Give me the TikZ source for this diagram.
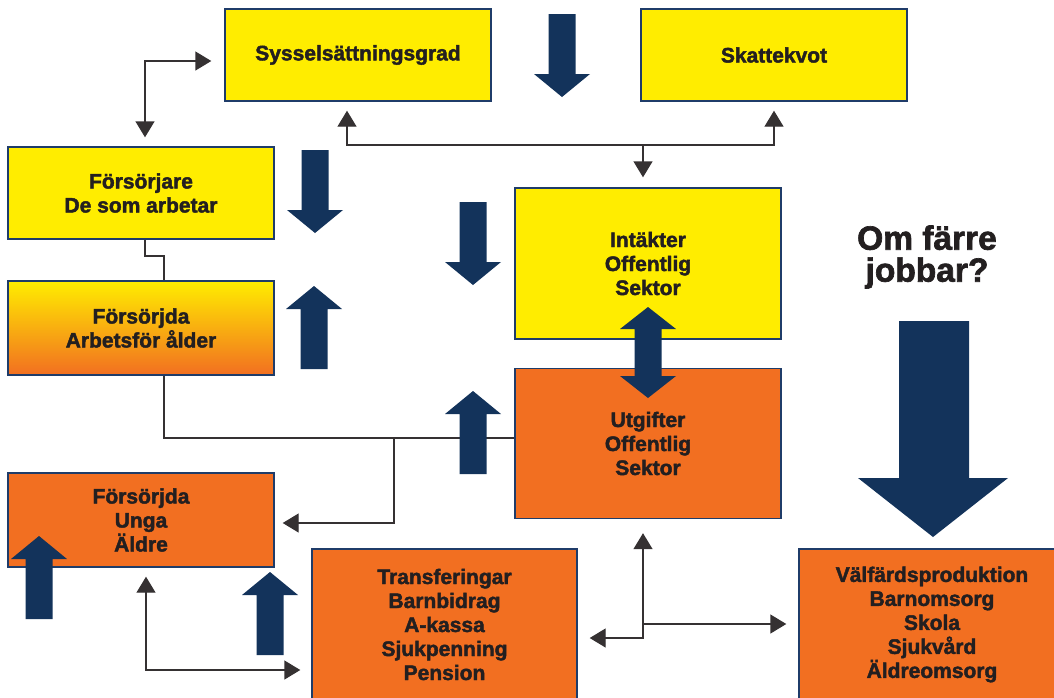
\documentclass[tikz,border=0pt]{standalone}
\usepackage{fontspec}
\setmainfont{Liberation Sans}[BoldFeatures={FakeBold=2}]
\usetikzlibrary{arrows.meta}
\definecolor{ylw}{HTML}{FFED00}
\definecolor{org}{HTML}{F26F21}
\definecolor{navy}{HTML}{13335B}
\definecolor{edge}{HTML}{1F3C69}
\definecolor{ink}{HTML}{231F20}
\definecolor{lin}{HTML}{353132}
\tikzset{
 Tri/.tip={Triangle[length=16pt,width=19pt]},
 box/.style={draw=edge, line width=1.4pt, minimum width=266pt, inner sep=0pt, align=center,
   font=\fontsize{21}{24}\selectfont\bfseries, text=ink},
 ybox/.style={box, fill=ylw},
 obox/.style={box, fill=org},
 gbox/.style={box, top color=ylw, bottom color=org},
 conn/.style={draw=lin, line width=1.4pt},
 bdown/.pic={\fill[navy] (-13.5,0) -- (13.5,0) -- (13.5,60) -- (28,60) -- (0,83) -- (-28,60) -- (-13.5,60) -- cycle;},
 bup/.pic={\fill[navy] (0,0) -- (28,23) -- (13.5,23) -- (13.5,83) -- (-13.5,83) -- (-13.5,23) -- (-28,23) -- cycle;},
 bboth/.pic={\fill[navy] (0,0) -- (28,22) -- (13.5,22) -- (13.5,69) -- (28,69) -- (0,91) -- (-28,69) -- (-13.5,69) -- (-13.5,22) -- (-28,22) -- cycle;}
}
\begin{document}
\begin{tikzpicture}[x=1pt,y=-1pt]
\useasboundingbox (0,0) rectangle (1054,697);
\fill[white] (0,0) rectangle (1054,697);

% boxes
\node[ybox, minimum height=92pt] (syss) at (358,55) {Sysselsättningsgrad};
\node[ybox, minimum height=92pt] (skatt) at (774,55) {Skattekvot};
\node[ybox, minimum height=92pt] (forsj) at (141,193) {Försörjare\\De som arbetar};
\node[gbox, minimum height=94pt] (arb) at (141,328) {Försörjda\\Arbetsför ålder};
\node[ybox, minimum height=151pt] (int) at (648,263.5) {Intäkter\\Offentlig\\Sektor};
\node[obox, minimum height=150pt] (utg) at (648,443.5) {Utgifter\\Offentlig\\Sektor};
\node[obox, minimum height=94pt] (unga) at (141,520) {Försörjda\\Unga\\Äldre};
\node[obox, minimum width=265pt, minimum height=151pt] (trans) at (444.5,624.5) {Transferingar\\Barnbidrag\\A-kassa\\Sjukpenning\\Pension};
\node[obox, minimum height=151pt] (valf) at (932,624.5) {Välfärdsproduktion\\Barnomsorg\\Skola\\Sjukvård\\Äldreomsorg};

\node[font=\fontsize{33.5}{32}\selectfont\bfseries, text=ink, align=center, inner sep=0pt] (q) at (927,257) {Om färre\\jobbar?};

% junction coordinates
\coordinate (a1) at (145,61);
\coordinate (b1) at (347,145);
\coordinate (b2) at (774,145);
\coordinate (b3) at (643,145);
\coordinate (c1) at (145,256);
\coordinate (c2) at (164,256);
\coordinate (d1) at (164,438);
\coordinate (d2) at (394,438);
\coordinate (d3) at (394,523);
\coordinate (e1) at (146,670);
\coordinate (f1) at (643,638);
\coordinate (f2) at (643,624);

% connectors
\draw[conn, Tri-Tri, shorten <=13pt, shorten >=9pt] (syss.west |- a1) -- (a1) -- (a1 |- forsj.north);
\draw[conn, Tri-Tri, shorten <=9pt, shorten >=9pt] (syss.south -| b1) -- (b1) -- (b2) -- (skatt.south -| b2);
\draw[conn, -Tri, shorten >=10pt] (b3) -- (int.north -| b3);
\draw[conn] (forsj.south -| c1) -- (c1) -- (c2) -- (arb.north -| c2);
\draw[conn] (arb.south -| d1) -- (d1) -- (utg.west |- d1);
\draw[conn, -Tri, shorten >=8pt] (d2) -- (d3) -- (unga.east |- d3);
\draw[conn, Tri-Tri, shorten <=9pt, shorten >=11pt] (unga.south -| e1) -- (e1) -- (trans.west |- e1);
\draw[conn, Tri-Tri, shorten <=14pt, shorten >=12pt] (utg.south -| f1) -- (f1) -- (trans.east |- f1);
\draw[conn, -Tri, shorten >=12pt] (f2) -- (valf.west |- f2);

% block arrows
\pic at (562,14) {bdown};
\pic at (315,150) {bdown};
\pic at (473,202) {bdown};
\pic at (314,286) {bup};
\pic at (473,391) {bup};
\pic at (39,536) {bup};
\pic at (270,572) {bup};
\pic at (648,307) {bboth};
\fill[navy] (899,321) -- (969,321) -- (969,478) -- (1008,478) -- (933,537) -- (858,478) -- (899,478) -- cycle;
\end{tikzpicture}
\end{document}
